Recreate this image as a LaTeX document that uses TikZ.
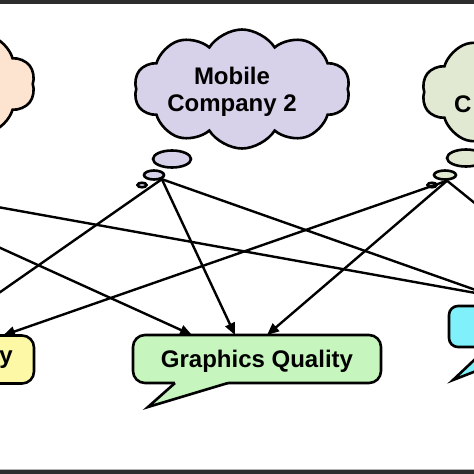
\documentclass[tikz,border=0pt]{standalone}
\usepackage{fontspec}
\setmainfont{Liberation Sans}
\usetikzlibrary{shapes.symbols,shapes.geometric,arrows.meta,calc}
\definecolor{lav}{RGB}{215,210,234}
\definecolor{peach}{RGB}{252,228,208}
\definecolor{sage}{RGB}{226,233,211}
\definecolor{gqgreen}{RGB}{198,246,190}
\definecolor{lbyellow}{RGB}{252,248,166}
\definecolor{rbcyan}{RGB}{128,240,250}
\definecolor{framecol}{RGB}{45,45,45}
\begin{document}
\begin{tikzpicture}[x=1pt,y=-1pt,
  arr/.style={-{Triangle[length=12pt,width=10pt]}, line width=2.4pt},
  cloudbox/.style={cloud, cloud puffs=10, cloud puff arc=115, cloud ignores aspect, draw, line width=2.6pt, minimum width=216pt, minimum height=119pt, inner sep=0pt},
  bubble/.style={ellipse, draw, line width=2.6pt, inner sep=0pt},
  callbox/.style={rectangle, rounded corners=12pt, draw, line width=2.6pt, minimum width=248pt, minimum height=48pt, outer sep=0pt, inner sep=0pt, text height=16pt, text depth=0pt, font=\bfseries\fontsize{24}{27}\selectfont},
  tailline/.style={line width=2.6pt, line join=miter},
  txt/.style={font=\bfseries\fontsize{24}{27}\selectfont, align=center, inner sep=0pt}]
\useasboundingbox (0,0) rectangle (474,474);
\clip (0,0) rectangle (474,474);
\fill[white] (0,0) rectangle (474,474);
% clouds
\node[cloudbox, fill=peach] (c1) at (-73,84) {};
\node[cloudbox, fill=lav] (c2) at (242,89) {};
\node[cloudbox, fill=sage] (c3) at (530,92) {};
\node[txt] (t2) at (232,92) {Mobile\\Company 2};
\node[txt, anchor=base west] (t3) at (454,112) {C};
% thought bubbles
\node[bubble, fill=lav, minimum width=38pt, minimum height=17pt] (g2) at (172,159) {};
\node[bubble, fill=lav, minimum width=20pt, minimum height=9pt] (m2) at (154,175) {};
\node[bubble, fill=lav, minimum width=9pt, minimum height=4.5pt] (k2) at (142,185) {};
\node[bubble, fill=sage, minimum width=38pt, minimum height=17pt] (g3) at (466,158) {};
\node[bubble, fill=sage, minimum width=22pt, minimum height=9pt] (m3) at (445,175) {};
\node[bubble, fill=sage, minimum width=9pt, minimum height=4.5pt] (k3) at (432,185) {};
\coordinate (s1) at (-147,181);
\coordinate (s2) at (m2.-28);
\coordinate (s3) at (m3.-70);
% callout boxes
\node[callbox, fill=lbyellow] (lb) at (-90,359.5) {};
\node[txt, anchor=base east] (ty) at (13,363) {y};
\node[callbox, fill=gqgreen] (gq) at (257,359) {Graphics Quality};
\node[callbox, fill=rbcyan, minimum height=41pt, rounded corners=9pt] (rb) at (573,326.5) {};
% tails
\fill[gqgreen] ($(gq.south west)+(42,-2)$) -- ($(gq.south west)+(95,-2)$) -- ($(gq.south west)+(95,0)$) -- ($(gq.south west)+(15,24)$) -- ($(gq.south west)+(42,0)$) -- cycle;
\draw[tailline] ($(gq.south west)+(42,0)$) -- ($(gq.south west)+(15,24)$) -- ($(gq.south west)+(95,0)$);
\fill[rbcyan] ($(rb.south west)+(39,-2)$) -- ($(rb.south west)+(89,-2)$) -- ($(rb.south west)+(89,0)$) -- ($(rb.south west)+(4,33)$) -- ($(rb.south west)+(39,0)$) -- cycle;
\draw[tailline] ($(rb.south west)+(39,0)$) -- ($(rb.south west)+(4,33)$) -- ($(rb.south west)+(89,0)$);
% connectors
\draw[arr] (s1) -- ([xshift=-65pt]gq.north);
\draw[arr] (s1) -- ([xshift=-25pt]rb.north);
\draw[arr] (s2) -- ([xshift=28pt]lb.north);
\draw[arr] (s2) -- ([xshift=-22pt]gq.north);
\draw[arr] (s2) -- ([xshift=-52pt]rb.north);
\draw[arr] (s3) -- ([xshift=93pt]lb.north);
\draw[arr] (s3) -- ([xshift=10pt]gq.north);
\draw[arr] (s3) -- ([xshift=29pt]rb.north);
% frame bands
\fill[framecol] (0,0) rectangle (474,3.5);
\fill[gray!60] (0,469) rectangle (474,470);
\fill[framecol] (0,470) rectangle (474,474);
\end{tikzpicture}
\end{document}
